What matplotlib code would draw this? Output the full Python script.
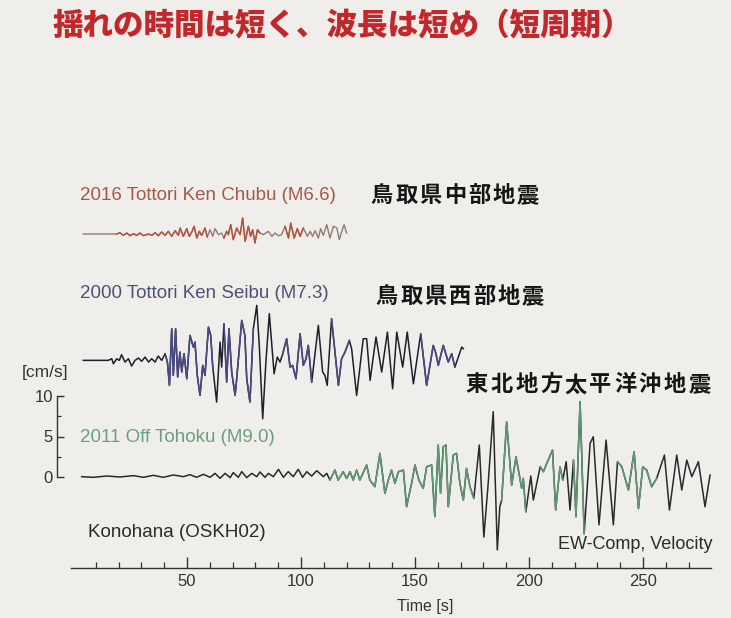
import numpy as np
import matplotlib
matplotlib.use("Agg")
import matplotlib.pyplot as plt
from matplotlib.ticker import FixedLocator

plt.rcParams['font.family'] = ['Liberation Sans', 'Noto Sans CJK JP', 'DejaVu Sans']

# ---------------- data ----------------
title = "揺れの時間は短く、波長は短め（短周期）"

chubu_label = "2016 Tottori Ken Chubu (M6.6)"
seibu_label = "2000 Tottori Ken Seibu (M7.3)"
tohoku_label = "2011 Off Tohoku (M9.0)"
chubu_jp = "鳥取県中部地震"
seibu_jp = "鳥取県西部地震"
tohoku_jp = "東北地方太平洋沖地震"
station = "Konohana (OSKH02)"
component = "EW-Comp, Velocity"

# 2016 Tottori-ken Chubu (time [s], velocity [cm/s])
chubu_t = [4.5, 19.2, 20.6, 22.1, 23.6, 25.0, 26.5, 27.9, 29.4, 30.9,
           33.1, 34.5, 36.0, 37.4, 38.9, 40.4, 41.8, 43.3, 44.8, 46.2,
           47.0, 48.4, 49.9, 51.0, 52.1, 53.1, 54.3, 55.4, 56.4, 57.9,
           58.9, 60.1, 61.3, 62.3, 63.8, 65.2, 66.2, 67.4, 68.1, 69.2,
           70.3, 71.8, 73.3, 74.4, 75.5, 76.9, 77.9, 78.8, 79.8, 80.9,
           82.0, 83.5, 85.7, 87.2, 88.6, 90.1, 91.5, 93.0, 94.5, 95.5,
           97.0, 98.4, 99.6, 101.0, 102.8, 104.0, 105.1, 106.2, 107.6, 108.6,
           109.8, 111.3, 112.7, 114.2, 115.7, 116.8, 117.9, 118.9, 120.0]
chubu_v = [0.0, 0.0, 0.16, -0.17, 0.12, -0.21, 0.04, -0.17, 0.12, -0.21,
           0.0, -0.17, 0.16, -0.21, 0.25, -0.17, 0.33, -0.29, 0.41, -0.17,
           0.74, -0.29, 0.66, -0.29, 0.25, 0.95, -0.5, 0.33, -0.17, 0.74,
           -0.37, 0.53, -0.29, 0.66, -0.08, 0.12, -0.5, 0.33, -0.08, 1.15,
           -0.7, 0.74, -0.08, 1.97, -0.91, 0.95, -0.29, 0.53, -1.11, 0.53,
           0.12, -0.08, 0.33, -0.29, 0.12, -0.21, -0.08, 0.95, -0.5, 1.36,
           -0.5, 0.66, -0.29, 0.74, -0.29, 0.33, -0.29, 0.41, -0.5, 0.66,
           -0.17, 1.15, -0.5, 0.95, 0.74, -0.7, 0.33, 1.15, 0.12]

# 2000 Tottori-ken Seibu
seibu_t = [4.5, 15.5, 17.0, 17.7, 19.2, 20.3, 21.3, 22.8, 24.3, 25.7,
           27.2, 28.7, 30.1, 31.6, 33.1, 34.5, 36.0, 37.4, 38.9, 40.4,
           41.4, 42.3, 43.3, 44.0, 45.0, 45.9, 46.9, 47.7, 48.7, 49.9,
           51.3, 52.8, 53.5, 54.5, 55.7, 56.9, 57.9, 59.4, 60.4, 61.3,
           63.0, 64.5, 65.2, 66.2, 67.4, 68.4, 69.6, 71.1, 71.8, 74.0,
           75.4, 76.2, 77.6, 79.1, 80.6, 81.7, 83.2, 84.6, 86.1, 88.2,
           89.6, 90.8, 92.0, 93.7, 95.2, 96.3, 97.8, 99.6, 101.0, 102.2,
           103.2, 104.7, 107.6, 109.5, 110.5, 111.5, 113.4, 116.4, 117.8, 119.3,
           121.2, 122.2, 124.4, 127.3, 128.8, 130.3, 132.9, 135.4, 137.9, 140.2,
           142.0, 144.6, 146.6, 149.3, 152.5, 155.1, 158.0, 159.2, 160.2, 162.4,
           164.6, 166.1, 167.5, 170.5, 171.2]
seibu_v = [0.0, 0.0, 0.2, -0.42, 0.2, 0.0, 0.7, -0.21, 0.2, -0.7,
           0.0, 0.29, -0.12, 0.41, -0.21, 0.2, -0.21, 0.53, 0.0, 0.82,
           -0.21, -3.09, 3.9, -1.85, 3.9, -2.06, 1.02, -1.44, 0.82, -2.27,
           3.08, 1.64, 2.26, -1.85, -4.33, -0.62, -1.85, 4.11, 3.08, -0.83,
           -5.15, 2.26, -0.83, 4.52, -2.68, 3.9, -1.44, -4.33, -2.27, 4.93,
           3.08, -2.27, -5.15, 3.9, 6.79, 1.85, -7.21, -0.21, 5.76, -1.65,
           0.41, -0.21, 0.82, 2.67, -0.83, -0.62, -2.27, 3.29, -0.62, 0.2,
           1.85, -2.68, 4.32, -1.44, -1.86, -3.09, 5.14, -3.09, 0.2, 1.02,
           2.46, 1.44, -4.33, 2.67, 2.67, -2.47, 2.88, -1.44, 3.49, -3.5,
           3.49, -0.83, 3.49, -2.89, 3.29, -3.09, 1.85, 0.82, -0.62, 1.85,
           -0.21, 0.82, -0.83, 1.64, 1.44]

# 2011 Off Tohoku
tohoku_t = [3.8, 8.9, 14.8, 20.6, 26.5, 30.9, 35.2, 39.6, 44.0, 48.4,
            51.3, 54.2, 57.2, 60.1, 62.3, 64.5, 66.7, 68.9, 70.3, 72.5,
            74.0, 76.2, 78.4, 80.6, 82.0, 84.2, 85.7, 87.9, 90.1, 92.3,
            94.4, 96.6, 98.8, 100.7, 102.5, 104.7, 106.9, 109.8, 111.3, 112.7,
            114.9, 116.3, 118.5, 120.0, 121.5, 122.9, 124.4, 125.8, 128.8, 130.2,
            132.4, 134.6, 136.8, 138.3, 139.7, 141.2, 142.7, 144.9, 146.3, 148.5,
            150.0, 151.7, 153.6, 155.1, 157.3, 158.7, 160.2, 161.2, 162.4, 163.6,
            164.6, 166.8, 168.2, 169.7, 171.2, 172.6, 174.1, 175.8, 178.2, 180.2,
            182.1, 184.3, 186.1, 187.2, 188.0, 190.2, 192.4, 194.3, 196.8, 197.5,
            198.6, 200.8, 201.9, 204.9, 206.3, 207.8, 210.3, 211.7, 213.6, 214.8,
            216.3, 218.0, 219.5, 220.6, 222.4, 224.2, 226.8, 228.2, 230.7, 233.8,
            237.0, 238.8, 240.7, 243.6, 246.1, 248.0, 249.9, 251.6, 253.8, 256.0,
            259.4, 261.6, 264.8, 267.0, 269.2, 271.4, 274.3, 277.2, 279.4]
tohoku_v = [0.04, -0.04, 0.12, 0.0, 0.17, -0.04, 0.21, -0.04, 0.25, 0.04,
            0.29, -0.04, 0.33, -0.04, 0.45, -0.16, 0.45, -0.08, 0.54, -0.04,
            0.66, -0.08, 0.45, 0.04, 0.62, -0.04, 0.45, 0.04, 0.95, -0.04,
            0.66, 0.04, 0.95, -0.04, 0.66, 0.12, 0.78, 0.04, 0.45, -0.38,
            0.86, -0.38, 0.65, -0.17, 0.65, -0.38, 0.86, -0.38, 1.48, -0.38,
            -1.2, 2.92, -2.02, -0.38, 0.86, -0.79, 0.65, 0.86, -3.67, -0.79,
            1.48, -0.38, -1.4, 1.27, 1.48, -4.9, 3.94, -2.02, 3.74, 3.94,
            -3.67, 2.71, 2.92, -0.79, -2.85, 1.06, -1.2, -2.64, 3.94, -7.4,
            -0.79, 8.06, -9.0, -3.67, -2.85, 6.8, -1.0, 2.5, -1.4, -0.17,
            -4.3, 0.12, -2.85, 1.27, 0.65, 1.68, 3.33, -4.08, 1.27, -0.38,
            1.89, -4.08, 2.09, -4.9, 9.3, -7.0, 4.15, 4.97, -5.9, 4.56,
            -5.9, 1.89, 1.27, -1.6, 3.12, -3.9, 1.27, 0.86, -1.2, -0.17,
            2.71, -4.08, 2.71, -1.6, 2.09, 0.04, 1.89, -3.67, 0.24]

x_major = [50, 100, 150, 200, 250]
y_ticks = [0, 5, 10]

# ---------------- layout ----------------
W, H = 731, 618
fig = plt.figure(figsize=(W / 100, H / 100), dpi=100)
bg = '#efeeea'
fig.patch.set_facecolor(bg)
ax = fig.add_axes([0, 0, 1, 1])
ax.set_facecolor(bg)

# pixel -> data mapping: x = 73 + 2.28 t ; y = 477 - 8.1 v
px_t = 2.28
px_v = 8.1
ax.set_xlim(-73 / px_t, (W - 73) / px_t)
ax.set_ylim((477 - H) / px_v, 477 / px_v)

off_tohoku = 0.0
off_seibu = 14.4
off_chubu = 30.0


def trace(t, v, off, base_col, over_col, windows, lw=1.0):
    t = np.asarray(t)
    v = np.asarray(v) + off
    ax.plot(t, v, color=base_col, lw=lw, solid_joinstyle='round', zorder=3)
    for a, b in windows:
        m = (t >= a) & (t <= b)
        ax.plot(t[m], v[m], color=over_col, lw=lw, solid_joinstyle='round', zorder=4)


trace(chubu_t, chubu_v, off_chubu, '#8f7b70', '#b8503a', [(19, 60), (66, 83), (92, 102)], lw=1.0)
trace(seibu_t, seibu_v, off_seibu, '#1f1f2a', '#4a4a86', [(40, 62), (66, 80), (92, 106), (113, 122), (150, 168)], lw=1.1)
trace(tohoku_t, tohoku_v, off_tohoku, '#262a28', '#5e9a74', [(112, 178), (188, 200), (204, 216), (219, 226), (238, 258)], lw=1.1)

# English labels
lab_fs = 13.5
ax.text(3.1, 34.7, chubu_label, color='#a35a47', fontsize=lab_fs, va='center', ha='left')
ax.text(3.1, 22.7, seibu_label, color='#4d5278', fontsize=lab_fs, va='center', ha='left')
ax.text(3.1, 4.9, tohoku_label, color='#6aa07e', fontsize=lab_fs, va='center', ha='left')
ax.text(6.6, -6.9, station, color='#2b2b2b', fontsize=13.5, va='center', ha='left')
ax.text(280.3, -8.3, component, color='#2b2b2b', fontsize=13, va='center', ha='right')


def spaced(s, t0, v0, step, fs=16):
    for i, ch in enumerate(s):
        ax.text(t0 + i * step, v0, ch, fontsize=fs, ha='center', va='center',
                color='#151515', family=['Noto Sans CJK JP'], weight='bold')


spaced(chubu_jp, (382 - 73) / px_t, 34.7, 24.3 / px_t)
spaced(seibu_jp, (387 - 73) / px_t, 22.3, 24.3 / px_t)
spaced(tohoku_jp, (477 - 73) / px_t, 11.4, 24.7 / px_t)

# bottom axis
for s in ['top', 'right']:
    ax.spines[s].set_visible(False)
ax.spines['bottom'].set_position(('data', (477 - 568) / px_v))
ax.spines['bottom'].set_bounds(-1, 280)
ax.spines['left'].set_position(('data', (57 - 73) / px_t))
ax.spines['left'].set_bounds(0, 10)
for s in ['bottom', 'left']:
    ax.spines[s].set_color('#333333')
    ax.spines[s].set_linewidth(1.0)

ax.xaxis.set_major_locator(FixedLocator(x_major))
ax.xaxis.set_minor_locator(FixedLocator(list(range(10, 280, 10))))
ax.tick_params(axis='x', which='major', direction='in', length=8, width=1.0,
               colors='#333333', labelsize=12, pad=4)
ax.tick_params(axis='x', which='minor', direction='in', length=4, width=0.9, colors='#333333')

ax.yaxis.set_major_locator(FixedLocator(y_ticks))
ax.yaxis.set_minor_locator(FixedLocator([2.5, 7.5]))
ax.tick_params(axis='y', which='major', direction='in', length=5, width=1.0,
               colors='#333333', labelsize=12, pad=3)
ax.tick_params(axis='y', which='minor', direction='in', length=3, width=0.9, colors='#333333')

ax.text((45 - 73) / px_t, (477 - 372) / px_v, "[cm/s]", fontsize=12.5, color='#333333',
        ha='center', va='center')
ax.text((425 - 73) / px_t, (477 - 606) / px_v, "Time [s]", fontsize=11.5, color='#333333',
        ha='center', va='center')

fig.text(52 / W, 1 - 25 / H, title, fontsize=22, color='#c3272b', weight='heavy',
         family=['Noto Sans CJK JP'], ha='left', va='center')

fig.savefig('out.png', dpi=100, facecolor=bg)
